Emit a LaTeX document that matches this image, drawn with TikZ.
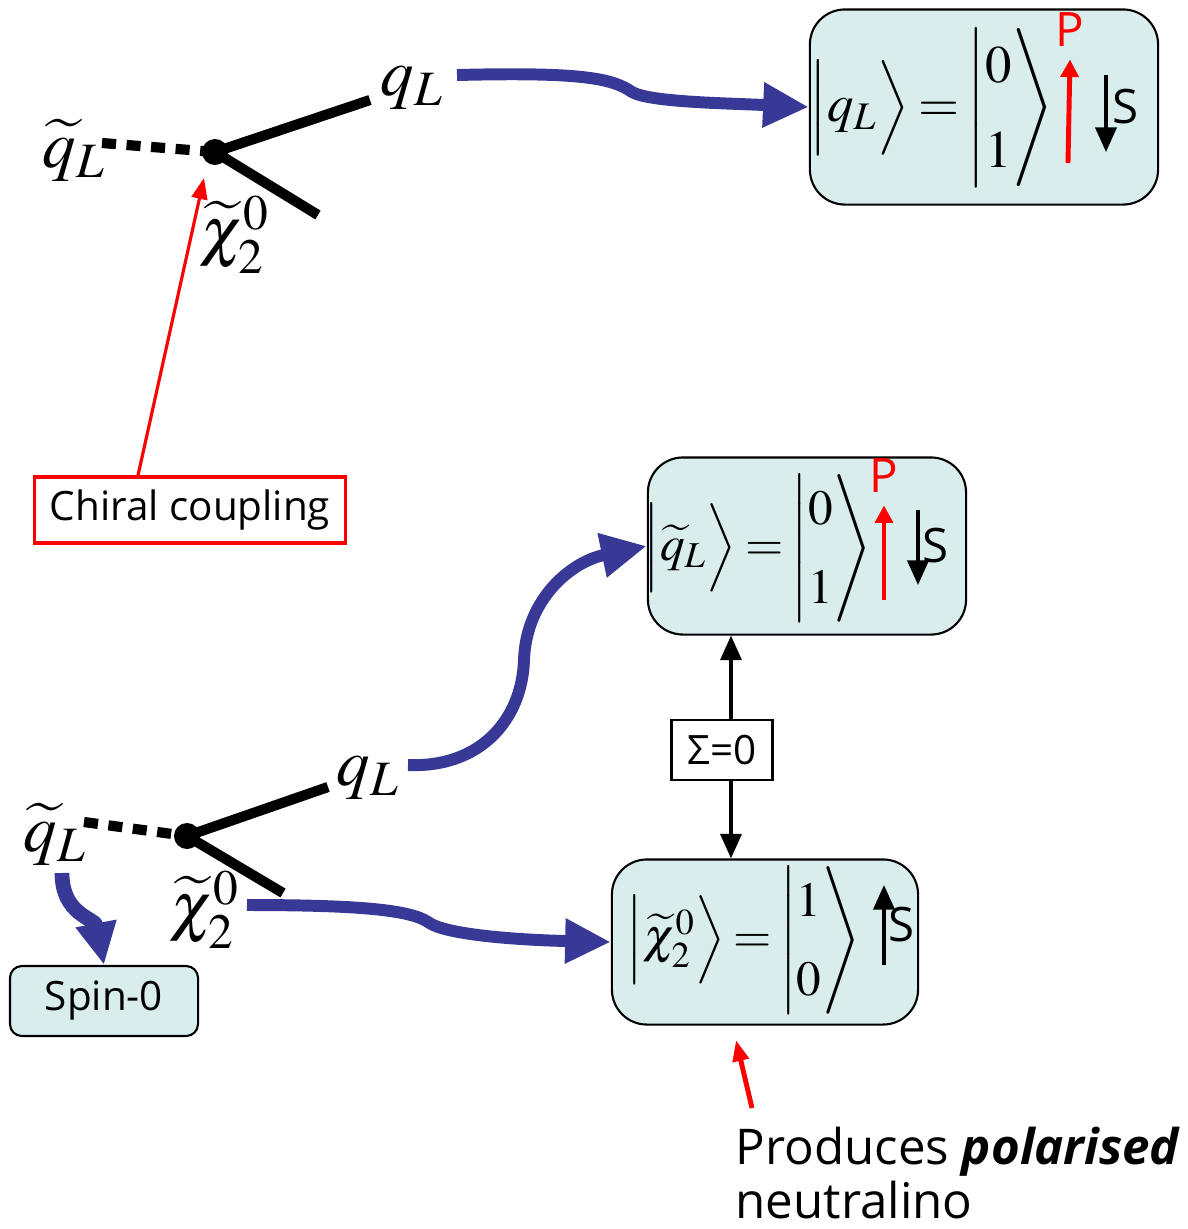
\documentclass[tikz,border=0pt]{standalone}
\usepackage{mathptmx}
\usepackage{amsmath}
\usepackage[no-math]{fontspec}
\setsansfont{Open Sans}
\usetikzlibrary{arrows.meta,positioning,calc}
\definecolor{flowblue}{RGB}{56,56,150}
\definecolor{ketfill}{RGB}{217,237,237}
\thickmuskip=3mu plus 2mu

\begin{document}
\begin{tikzpicture}[x=0.01cm, y=-0.01cm,
    ketbox/.style={rectangle, rounded corners=0.35cm, draw=black,
                fill=ketfill, line width=0.6pt},
    particle/.style={line width=2.9pt},
    sparticle/.style={line width=2.9pt, dash pattern=on 4pt off 3pt},
    flow/.style={draw=flowblue, line width=3.4pt,
                -{Triangle[length=13pt,width=12pt]}},
    pointer/.style={draw=red, fill=red, line width=0.9pt,
                -{Triangle[length=6pt,width=4.5pt]}},
    lbl/.style={font=\fontsize{19}{22}\selectfont},
    ket/.style={inner sep=0pt,
                font=\fontsize{14}{16.8}\selectfont\def\arraystretch{1.35}},
    bigket/.style={inner sep=0pt,
                font=\fontsize{15}{18}\selectfont\def\arraystretch{1.35}},
    spin/.style={line width=1pt, -{Triangle[length=7pt,width=6pt]}},
    pol/.style={red, line width=1.4pt, -{Triangle[length=5pt,width=5pt]}},
    tag/.style={font=\sffamily\fontsize{11.5}{14}\selectfont},
    sp/.style={font=\sffamily\fontsize{13.5}{16}\selectfont},
]
\useasboundingbox (0,0) rectangle (1188,1229);

% upper vertex
\coordinate (v1) at (215,152);
\node[lbl] (sq1) at (74,150) {$\widetilde{q}_L$};
\node[lbl] (q1) at (412,88) {$q_L$};
\node[lbl] (chi1) at (235,235) {$\widetilde{\chi}_2^0$};
\coordinate (sq1end) at (102,143);
\coordinate (q1end) at (370,100);
\coordinate (chi1end) at (318,215);
\draw[sparticle] (sq1end) -- (v1);
\draw[particle] (v1) -- (q1end);
\draw[particle] (v1) -- (chi1end);
\fill (v1) circle (0.13cm);

\node[ketbox, minimum width=3.48cm, minimum height=1.95cm] (qket) at (984,107) {};
\node[bigket] (qeq) at (932,108)
    {$\Big|q_L\Big\rangle=\left|\begin{matrix}0\\1\end{matrix}\right\rangle$};
\node[sp, red] (qP) at (1070,30) {P};
\coordinate (qPfoot) at (1068,163);
\draw[pol] (qPfoot) -- (qP.south);
\node[sp] (qS) at (1126,107) {S};
\coordinate (qSa) at (1106,75);
\coordinate (qSb) at (1106,152);
\draw[spin] (qSa) -- (qSb);

\coordinate (f1s) at (457,75);
\draw[flow] (f1s) .. controls (580,72) and (612,78) .. (632,92)
    .. controls (650,102) and (720,103) .. (qket.west);

\node[tag, draw=red, line width=0.9pt, minimum width=3.11cm,
      minimum height=0.66cm] (chiral) at (190,510) {Chiral coupling};
\coordinate (v1tip) at (204,178);
\draw[pointer] ($(chiral.north)+(-52,0)$) -- (v1tip);

% lower vertex
\coordinate (v2) at (187,836);
\node[lbl] (sq2) at (55,834) {$\widetilde{q}_L$};
\node[lbl] (q2) at (368,778) {$q_L$};
\node[lbl] (chi2) at (205,910) {$\widetilde{\chi}_2^0$};
\coordinate (sq2end) at (84,822);
\coordinate (q2end) at (328,787);
\coordinate (chi2end) at (283,893);
\draw[sparticle] (sq2end) -- (v2);
\draw[particle] (v2) -- (q2end);
\draw[particle] (v2) -- (chi2end);
\fill (v2) circle (0.13cm);

\node[ketbox, minimum width=3.18cm, minimum height=1.77cm] (sqket) at (807,546) {};
\node[ket] (sqeq) at (758,548)
    {$\Big|\widetilde{q}_L\Big\rangle=\left|\begin{matrix}0\\1\end{matrix}\right\rangle$};
\node[sp, red] (sqP) at (884,476) {P};
\coordinate (sqPfoot) at (884,600);
\draw[pol] (sqPfoot) -- (sqP.south);
\node[sp] (sqS) at (936,546) {S};
\coordinate (sqSa) at (918,510);
\coordinate (sqSb) at (918,585);
\draw[spin] (sqSa) -- (sqSb);

\node[ketbox, minimum width=3.06cm, minimum height=1.65cm] (chiket) at (765,942) {};
\node[ket] (chieq) at (744,940)
    {$\Big|\widetilde{\chi}_2^0\Big\rangle=\left|\begin{matrix}1\\0\end{matrix}\right\rangle$};
\node[sp] (chiS) at (902,925) {S};
\coordinate (chiSa) at (884,965);
\coordinate (chiSb) at (884,885);
\draw[spin] (chiSa) -- (chiSb);

\node[tag, draw, fill=white, line width=0.6pt, minimum width=1.01cm,
      minimum height=0.6cm] (sum) at (722,750) {Σ=0};
\coordinate (link) at (731,0);
\draw[spin] (sum.north -| link) -- (sqket.south -| link);
\draw[spin] (sum.south -| link) -- (chiket.north -| link);

\node[ketbox, rounded corners=0.12cm, tag, minimum width=1.88cm,
      minimum height=0.7cm] (spin0) at (104,1001) {Spin-0};

\coordinate (f2s) at (408,765);
\draw[flow] (f2s) .. controls (480,768) and (522,720) .. (524,660)
    .. controls (526,600) and (570,562) .. (sqket.west);
\coordinate (f3s) at (247,905);
\draw[flow] (f3s) .. controls (360,905) and (410,910) .. (428,922)
    .. controls (445,935) and (520,940) .. (chiket.west);
\coordinate (f4s) at (62,873);
\draw[flow, line width=4.2pt, -{Triangle[length=12pt,width=11pt]}]
    (f4s) .. controls (62,915) and (95,918) .. (spin0.north);

\node[font=\sffamily\fontsize{14}{15.5}\selectfont, anchor=north west,
      align=left, inner sep=0pt] (note) at (735,1126)
      {Produces \textbf{\textit{polarised}}\\neutralino};
\coordinate (notetip) at (736,1040);
\draw[pointer, line width=1.4pt] ($(note.north west)+(17,-18)$) -- (notetip);

\end{tikzpicture}
\end{document}
